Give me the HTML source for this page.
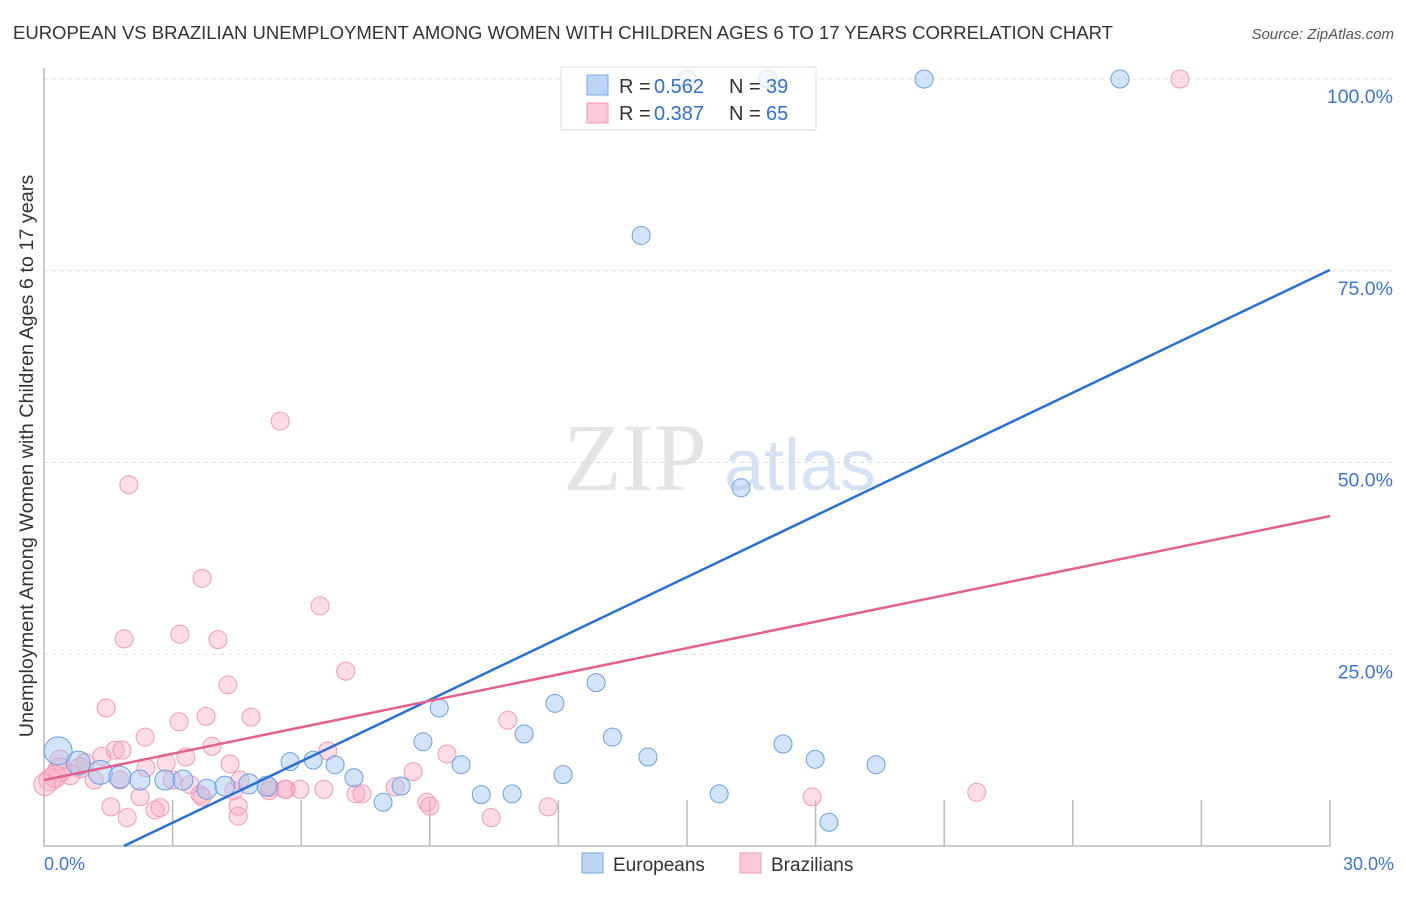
<!DOCTYPE html>
<html><head><meta charset="utf-8"><style>
body{margin:0;background:#fff;font-family:"Liberation Sans",sans-serif}
</style></head><body>
<svg id="chart" width="1406" height="892" viewBox="0 0 1406 892" xmlns="http://www.w3.org/2000/svg" font-family="Liberation Sans, sans-serif">
<text x="13" y="39" font-size="18.5" fill="#333">EUROPEAN VS BRAZILIAN UNEMPLOYMENT AMONG WOMEN WITH CHILDREN AGES 6 TO 17 YEARS CORRELATION CHART</text>
<text x="1394" y="39" font-size="15" fill="#555" text-anchor="end" font-style="italic">Source: ZipAtlas.com</text>
<g><text x="635" y="490" font-size="96" fill="#e4e4e4" font-family="Liberation Serif, serif" text-anchor="middle">ZIP</text><text x="800" y="490" font-size="72" fill="#d4e2f4" text-anchor="middle">atlas</text></g>
<text transform="translate(33,456) rotate(-90)" font-size="19.8" fill="#333" text-anchor="middle">Unemployment Among Women with Children Ages 6 to 17 years</text>
<g id="grid"></g>
<g id="pts"></g>
<g>
<rect x="561" y="67" width="255" height="63" fill="rgba(255,255,255,0.75)" stroke="#ddd"/>
<rect x="587" y="75" width="21" height="20" fill="#bcd5f5" stroke="#7aa8e8"/>
<rect x="587" y="103" width="21" height="20" fill="#fac8d6" stroke="#f09ab4"/>
<text x="619" y="93" font-size="20" fill="#333">R =</text><text x="654" y="93" font-size="20" fill="#2f6fd6">0.562</text>
<text x="729" y="93" font-size="20" fill="#333">N =</text><text x="766" y="93" font-size="20" fill="#2f6fd6">39</text>
<text x="619" y="120" font-size="20" fill="#333">R =</text><text x="654" y="120" font-size="20" fill="#2f6fd6">0.387</text>
<text x="729" y="120" font-size="20" fill="#333">N =</text><text x="766" y="120" font-size="20" fill="#2f6fd6">65</text>
</g>
<g id="lines"></g>
<g>
<rect x="582" y="853" width="21" height="20" fill="#bcd5f5" stroke="#7aa8e8"/>
<text x="613" y="871" font-size="19" fill="#333">Europeans</text>
<rect x="740" y="853" width="21" height="20" fill="#fac8d6" stroke="#f09ab4"/>
<text x="771" y="871" font-size="19" fill="#333">Brazilians</text>
</g>
</svg>
<script>
const xTicks=["0.0%","30.0%"];
const yTicks=[25,50,75,100];
const yTickLabels=["25.0%","50.0%","75.0%","100.0%"];
const euroX=[0.33,0.8,1.31,1.77,2.24,2.82,3.24,3.8,4.22,4.78,5.2,5.74,6.28,6.79,7.23,7.91,8.33,8.84,9.22,9.73,10.2,10.92,11.2,11.92,12.11,12.88,13.26,14.09,15.75,16.26,17.24,17.99,18.31,19.41,13.93,14.997,16.89,20.53,25.1];
const euroY=[12.4,10.8,9.6,9.0,8.6,8.6,8.6,7.4,7.8,8.1,7.8,11.0,11.2,10.6,8.9,5.7,7.8,13.6,18.0,10.6,6.7,6.8,14.6,18.6,9.3,21.3,14.2,11.6,6.8,46.7,13.3,11.3,3.1,10.6,79.6,100,100,100,100];
const euroR=[14,12,12,11,10,10,10,10,10,10,10,9,9,9,9,9,9,9,9,9,9,9,9,9,9,9,9,9,9,9,9,9,9,9,9,9,9,9,9];
const brazX=[3.69,3.17,4.06,1.87,5.51,1.98,6.44,7.04,4.29,3.78,3.15,1.45,2.36,4.83,3.92,2.85,4.34,1.35,1.66,1.82,0.96,0.37,0.14,0.02,0.61,1.17,1.77,2.38,2.99,3.41,3.64,2.24,2.71,1.56,1.94,2.59,4.53,4.53,3.69,4.43,5.25,5.65,5.27,3.31,6.62,6.53,7.28,7.42,8.19,8.61,8.93,9.0,9.4,10.43,10.82,11.76,17.92,21.76,26.5,0.37,0.84,0.26,4.57,5.62,5.97];
const brazY=[34.9,27.6,26.9,27.0,55.4,47.1,31.3,22.8,21.0,16.9,16.2,18.0,14.2,16.8,13.0,10.8,10.7,11.7,12.5,12.5,10.9,9.9,8.6,8.0,9.3,8.6,8.6,10.2,8.6,8.0,6.7,6.4,5.0,5.1,3.7,4.7,5.2,3.9,6.4,7.2,7.2,7.4,7.6,11.6,12.4,7.4,6.8,6.8,7.7,9.7,5.7,5.2,12.0,3.7,16.4,5.1,6.4,7.0,100,11.2,10.2,9.1,8.6,7.4,7.4];
const brazR=[9,9,9,9,9,9,9,9,9,9,9,9,9,9,9,9,9,9,9,9,9,12,11,11,10,9,9,9,9,9,9,9,9,9,9,9,9,9,9,9,9,9,9,9,9,9,9,9,9,9,9,9,9,9,9,9,9,9,9,10,10,11,9,9,9];
const euroTrend=[-4.98,2.670];
const brazTrend=[8.6,1.147];
const NS="http://www.w3.org/2000/svg";
const X=v=>44+v*(1286/30), Y=v=>846-v*7.67;
function mk(t,a,p){const e=document.createElementNS(NS,t);for(const k in a)e.setAttribute(k,a[k]);p.appendChild(e);return e;}
const grid=document.getElementById('grid');
yTicks.forEach((t,i)=>{
 const l=mk('line',{x1:44,x2:1394,y1:Y(t),y2:Y(t),stroke:'#ddd','stroke-dasharray':'4,4'},grid);
 
 
 const tx=mk('text',{x:1393,y:Y(t)+24,'font-size':19.5,fill:'#3a75d6','text-anchor':'end'},grid);tx.textContent=yTickLabels[i];
 
 
});
const ax=mk('line',{x1:44,x2:1330,y1:846,y2:846,stroke:'#bbb','stroke-width':1.5},grid);


const ay=mk('line',{x1:44,x2:44,y1:68,y2:846,stroke:'#bbb','stroke-width':1.5},grid);


for(let v=3;v<=30;v+=3){const t=mk('line',{x1:X(v),x2:X(v),y1:800,y2:846,stroke:'#bbb','stroke-width':1.5},grid);
 
 }
const x0=mk('text',{x:44,y:870,'font-size':18,fill:'#3a75d6'},grid);x0.textContent=xTicks[0];


const x1=mk('text',{x:1394,y:870,'font-size':18,fill:'#3a75d6','text-anchor':'end'},grid);x1.textContent=xTicks[1];


const pts=document.getElementById('pts');
brazX.forEach((x,i)=>{const c=mk('circle',{cx:X(x),cy:Y(brazY[i]),r:brazR[i],fill:'rgba(248,170,195,0.4)',stroke:'#f29ab5','stroke-width':1},pts);
 
 });
euroX.forEach((x,i)=>{const c=mk('circle',{cx:X(x),cy:Y(euroY[i]),r:euroR[i],fill:'rgba(160,195,240,0.45)',stroke:'#6a9fe3','stroke-width':1},pts);
 
 });
const lines=document.getElementById('lines');
const bx0=-euroTrend[0]/euroTrend[1];
const bl=mk('line',{x1:X(bx0),y1:Y(0),x2:X(30),y2:Y(euroTrend[0]+euroTrend[1]*30),stroke:'#2a6fd6','stroke-width':2.5},lines);


const pl=mk('line',{x1:X(0),y1:Y(brazTrend[0]),x2:X(30),y2:Y(brazTrend[0]+brazTrend[1]*30),stroke:'#e4608e','stroke-width':2.5},lines);


</script>
</body></html>
